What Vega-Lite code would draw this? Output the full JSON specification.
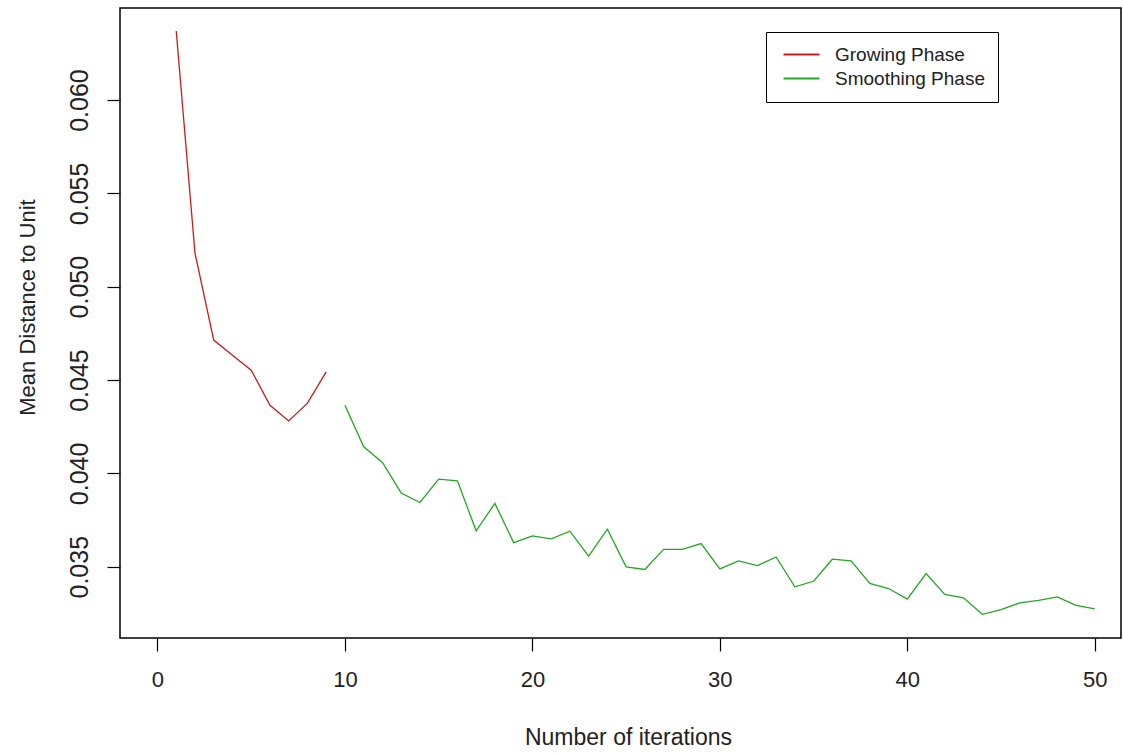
{
  "$schema": "https://vega.github.io/schema/vega-lite/v6.json",
  "width": 1001,
  "height": 630,
  "autosize": {"type": "none"},
  "padding": {"left": 120, "top": 8, "right": 2, "bottom": 116},
  "background": "white",
  "config": {
    "font": "Liberation Sans",
    "view": {"stroke": "black", "strokeWidth": 1.5},
    "legend": {"strokeWidth": 1}
  },
  "data": {
    "values": [
      {"iteration": 1, "distance": 0.0637, "phase": "Growing Phase"},
      {"iteration": 2, "distance": 0.0518, "phase": "Growing Phase"},
      {"iteration": 3, "distance": 0.04714, "phase": "Growing Phase"},
      {"iteration": 4, "distance": 0.04633, "phase": "Growing Phase"},
      {"iteration": 5, "distance": 0.04553, "phase": "Growing Phase"},
      {"iteration": 6, "distance": 0.04365, "phase": "Growing Phase"},
      {"iteration": 7, "distance": 0.04281, "phase": "Growing Phase"},
      {"iteration": 8, "distance": 0.04376, "phase": "Growing Phase"},
      {"iteration": 9, "distance": 0.04544, "phase": "Growing Phase"},
      {"iteration": 10, "distance": 0.04365, "phase": "Smoothing Phase"},
      {"iteration": 11, "distance": 0.04142, "phase": "Smoothing Phase"},
      {"iteration": 12, "distance": 0.04058, "phase": "Smoothing Phase"},
      {"iteration": 13, "distance": 0.03895, "phase": "Smoothing Phase"},
      {"iteration": 14, "distance": 0.03844, "phase": "Smoothing Phase"},
      {"iteration": 15, "distance": 0.03969, "phase": "Smoothing Phase"},
      {"iteration": 16, "distance": 0.0396, "phase": "Smoothing Phase"},
      {"iteration": 17, "distance": 0.03692, "phase": "Smoothing Phase"},
      {"iteration": 18, "distance": 0.03839, "phase": "Smoothing Phase"},
      {"iteration": 19, "distance": 0.03629, "phase": "Smoothing Phase"},
      {"iteration": 20, "distance": 0.03665, "phase": "Smoothing Phase"},
      {"iteration": 21, "distance": 0.03649, "phase": "Smoothing Phase"},
      {"iteration": 22, "distance": 0.0369, "phase": "Smoothing Phase"},
      {"iteration": 23, "distance": 0.03556, "phase": "Smoothing Phase"},
      {"iteration": 24, "distance": 0.03701, "phase": "Smoothing Phase"},
      {"iteration": 25, "distance": 0.03499, "phase": "Smoothing Phase"},
      {"iteration": 26, "distance": 0.03485, "phase": "Smoothing Phase"},
      {"iteration": 27, "distance": 0.03593, "phase": "Smoothing Phase"},
      {"iteration": 28, "distance": 0.03593, "phase": "Smoothing Phase"},
      {"iteration": 29, "distance": 0.03624, "phase": "Smoothing Phase"},
      {"iteration": 30, "distance": 0.03488, "phase": "Smoothing Phase"},
      {"iteration": 31, "distance": 0.03531, "phase": "Smoothing Phase"},
      {"iteration": 32, "distance": 0.03506, "phase": "Smoothing Phase"},
      {"iteration": 33, "distance": 0.03552, "phase": "Smoothing Phase"},
      {"iteration": 34, "distance": 0.03392, "phase": "Smoothing Phase"},
      {"iteration": 35, "distance": 0.03422, "phase": "Smoothing Phase"},
      {"iteration": 36, "distance": 0.0354, "phase": "Smoothing Phase"},
      {"iteration": 37, "distance": 0.03531, "phase": "Smoothing Phase"},
      {"iteration": 38, "distance": 0.0341, "phase": "Smoothing Phase"},
      {"iteration": 39, "distance": 0.03383, "phase": "Smoothing Phase"},
      {"iteration": 40, "distance": 0.03326, "phase": "Smoothing Phase"},
      {"iteration": 41, "distance": 0.03463, "phase": "Smoothing Phase"},
      {"iteration": 42, "distance": 0.03351, "phase": "Smoothing Phase"},
      {"iteration": 43, "distance": 0.03333, "phase": "Smoothing Phase"},
      {"iteration": 44, "distance": 0.03245, "phase": "Smoothing Phase"},
      {"iteration": 45, "distance": 0.0327, "phase": "Smoothing Phase"},
      {"iteration": 46, "distance": 0.03306, "phase": "Smoothing Phase"},
      {"iteration": 47, "distance": 0.0332, "phase": "Smoothing Phase"},
      {"iteration": 48, "distance": 0.03338, "phase": "Smoothing Phase"},
      {"iteration": 49, "distance": 0.03293, "phase": "Smoothing Phase"},
      {"iteration": 50, "distance": 0.03274, "phase": "Smoothing Phase"}
    ]
  },
  "mark": {"type": "line", "strokeWidth": 1.3, "clip": true},
  "encoding": {
    "x": {
      "field": "iteration",
      "type": "quantitative",
      "scale": {"domain": [-2, 51.4], "nice": false, "zero": false},
      "axis": {
        "title": "Number of iterations",
        "values": [0, 10, 20, 30, 40, 50],
        "grid": false,
        "domain": false,
        "tickColor": "black",
        "tickSize": 13,
        "tickWidth": 1.2,
        "labelFont": "Liberation Sans",
        "labelFontSize": 22,
        "labelColor": "#222222",
        "labelPadding": 18,
        "titleFont": "Liberation Sans",
        "titleFontSize": 23,
        "titleFontWeight": "normal",
        "titleColor": "#222222",
        "titleX": 508,
        "titleY": 106,
        "titleBaseline": "alphabetic"
      }
    },
    "y": {
      "field": "distance",
      "type": "quantitative",
      "scale": {"domain": [0.03118, 0.06493], "nice": false, "zero": false},
      "axis": {
        "title": "Mean Distance to Unit",
        "values": [0.035, 0.04, 0.045, 0.05, 0.055, 0.06],
        "format": ".3f",
        "grid": false,
        "domain": false,
        "tickColor": "black",
        "tickSize": 13,
        "tickWidth": 1.2,
        "labelAngle": -90,
        "labelAlign": "center",
        "labelBaseline": "alphabetic",
        "labelFont": "Liberation Sans",
        "labelFontSize": 25,
        "labelColor": "#222222",
        "labelPadding": 20,
        "titleFont": "Liberation Sans",
        "titleFontSize": 22,
        "titleFontWeight": "normal",
        "titleColor": "#222222",
        "titleAngle": -90,
        "titleAlign": "center",
        "titleBaseline": "alphabetic",
        "titleX": -86,
        "titleY": 299
      }
    },
    "color": {
      "field": "phase",
      "type": "nominal",
      "scale": {
        "domain": ["Growing Phase", "Smoothing Phase"],
        "range": ["#CC1A1A", "#22A822"]
      },
      "legend": {
        "title": null,
        "orient": "none",
        "legendX": 646,
        "legendY": 24,
        "strokeColor": "black",
        "fillColor": "white",
        "padding": 13,
        "symbolType": "M-3,0H3",
        "symbolSize": 144,
        "symbolStrokeWidth": 2.2,
        "symbolOffset": 13,
        "labelOffset": 24,
        "labelFont": "Liberation Sans",
        "labelFontSize": 19,
        "labelColor": "#222222",
        "rowPadding": 4
      }
    }
  }
}
